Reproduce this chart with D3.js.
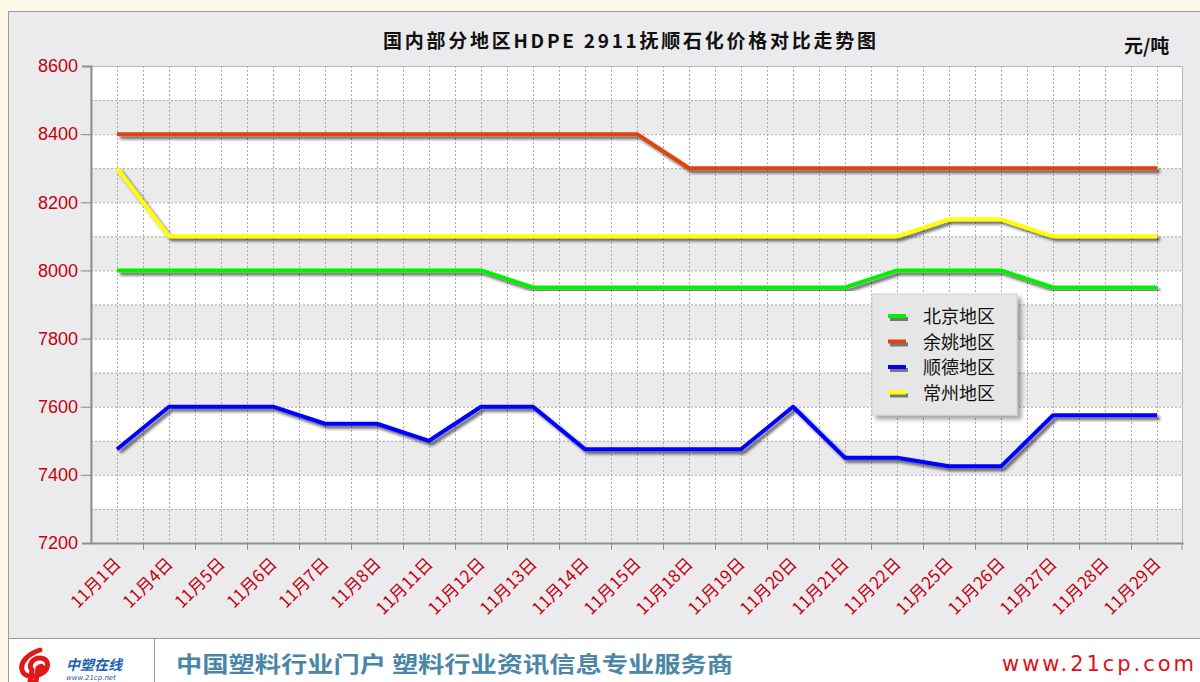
<!DOCTYPE html>
<html>
<head>
<meta charset="utf-8">
<script src="https://cdn.jsdelivr.net/npm/d3@7"></script>
<style>
  html, body { margin: 0; padding: 0; background: #fdf9e8; }
  svg { display: block; }
</style>
</head>
<body>
<div id="chart"></div>
<script>
// data
const dates = ['11月1日', '11月4日', '11月5日', '11月6日', '11月7日', '11月8日', '11月11日',
               '11月12日', '11月13日', '11月14日', '11月15日', '11月18日', '11月19日', '11月20日',
               '11月21日', '11月22日', '11月25日', '11月26日', '11月27日', '11月28日', '11月29日'];
const beijing = [8000, 8000, 8000, 8000, 8000, 8000, 8000, 8000, 7950, 7950, 7950,
                 7950, 7950, 7950, 7950, 8000, 8000, 8000, 7950, 7950, 7950];
const yuyao = [8400, 8400, 8400, 8400, 8400, 8400, 8400, 8400, 8400, 8400, 8400,
               8300, 8300, 8300, 8300, 8300, 8300, 8300, 8300, 8300, 8300];
const shunde = [7475, 7600, 7600, 7600, 7550, 7550, 7500, 7600, 7600, 7475, 7475,
                7475, 7475, 7600, 7450, 7450, 7425, 7425, 7575, 7575, 7575];
const changzhou = [8300, 8100, 8100, 8100, 8100, 8100, 8100, 8100, 8100, 8100, 8100,
                   8100, 8100, 8100, 8100, 8100, 8150, 8150, 8100, 8100, 8100];
const seriesNames = ['北京地区', '余姚地区', '顺德地区', '常州地区'];
const yTicks = [7200, 7400, 7600, 7800, 8000, 8200, 8400, 8600];
const title = '国内部分地区HDPE 2911抚顺石化价格对比走势图';

const W = 1200, H = 682;
const plot = {left: 91, right: 1183, top: 66, bottom: 543};
const colors = ['#00f000', '#dd4410', '#0000ff', '#ffff00'];
const series = [beijing, yuyao, shunde, changzhou].map((v, i) => ({name: seriesNames[i], values: v, color: colors[i]}));

const svg = d3.select('#chart').append('svg').attr('width', W).attr('height', H);

const defs = svg.append('defs');
const f = defs.append('filter').attr('id', 'shadow').attr('x', '-5%').attr('y', '-20%')
    .attr('width', '110%').attr('height', '140%');
f.append('feDropShadow').attr('dx', 3).attr('dy', 3).attr('stdDeviation', 1.4)
    .attr('flood-color', '#000').attr('flood-opacity', 0.6);
const f2 = defs.append('filter').attr('id', 'boxshadow').attr('x', '-10%').attr('y', '-10%')
    .attr('width', '130%').attr('height', '130%');
f2.append('feDropShadow').attr('dx', 4).attr('dy', 4).attr('stdDeviation', 2)
    .attr('flood-color', '#000').attr('flood-opacity', 0.35);

// panel
svg.append('rect').attr('x', 8.5).attr('y', 11.5).attr('width', W).attr('height', 627)
    .attr('fill', '#ebebee').attr('stroke', '#9a9a9a');
// footer
svg.append('rect').attr('x', 8.5).attr('y', 638.5).attr('width', W).attr('height', 50)
    .attr('fill', '#fff').attr('stroke', '#9a9a9a');
svg.append('line').attr('x1', 154.5).attr('x2', 154.5).attr('y1', 638).attr('y2', H)
    .attr('stroke', '#9a9a9a');

const x = d3.scaleBand().domain(dates).range([plot.left, plot.right]);
const y = d3.scaleLinear().domain([7200, 8600]).range([plot.bottom, plot.top]);
const cx = d => x(d) + x.bandwidth() / 2;

// alternating bands
const bands = d3.range(7200, 8600, 100);
svg.append('g').selectAll('rect').data(bands).join('rect')
    .attr('x', plot.left).attr('width', plot.right - plot.left)
    .attr('y', d => y(d + 100)).attr('height', d => y(d) - y(d + 100))
    .attr('fill', (d, i) => i % 2 === 0 ? '#ebebeb' : '#ffffff');

// grid
const grid = svg.append('g').attr('stroke', '#a8a8a8').attr('stroke-dasharray', '2,2');
grid.selectAll('.hg').data(bands.slice(1)).join('line')
    .attr('x1', plot.left).attr('x2', plot.right)
    .attr('y1', d => y(d) + 0.5).attr('y2', d => y(d) + 0.5);
const vlines = [];
dates.forEach((d, i) => { vlines.push(cx(d)); if (i > 0) vlines.push(x(d)); });
grid.selectAll('.vg').data(vlines).join('line')
    .attr('x1', d => Math.round(d) + 0.5).attr('x2', d => Math.round(d) + 0.5)
    .attr('y1', plot.top).attr('y2', plot.bottom);
// dotted lead-ins on left of axis
svg.append('g').attr('stroke', '#b0b0b0').attr('stroke-dasharray', '2,2')
    .selectAll('line').data(yTicks.slice(1, -1)).join('line')
    .attr('x1', 80).attr('x2', plot.left).attr('y1', d => y(d) + 0.5).attr('y2', d => y(d) + 0.5);

// frame
svg.append('rect').attr('x', plot.left).attr('y', plot.top + 0.5)
    .attr('width', plot.right - plot.left - 0.5).attr('height', plot.bottom - plot.top)
    .attr('fill', 'none').attr('stroke', '#b8b8b8');

// axes
const yAxis = svg.append('g').attr('transform', `translate(${plot.left},0)`)
    .call(d3.axisLeft(y).tickValues(yTicks).tickSize(9).tickPadding(4).tickFormat(d3.format('d')));
yAxis.select('.domain').attr('stroke', '#8f8f8f').attr('stroke-width', 2);
yAxis.selectAll('.tick line').attr('stroke', '#8f8f8f');
yAxis.selectAll('text').attr('fill', '#c4000c')
    .style('font-family', '"Liberation Sans", Arial, sans-serif').style('font-size', '18px');

const xAxis = svg.append('g').attr('transform', `translate(0,${plot.bottom})`)
    .call(d3.axisBottom(x).tickSize(0).tickPadding(0));
xAxis.select('.domain').attr('stroke', '#8f8f8f').attr('stroke-width', 2);
xAxis.selectAll('text')
    .attr('fill', '#c4000c')
    .style('font-family', '"Noto Sans CJK SC", sans-serif').style('font-size', '17px')
    .attr('text-anchor', 'end')
    .attr('dy', 0)
    .attr('transform', 'translate(5,22) rotate(-45)');
svg.append('g').attr('stroke', '#8f8f8f').selectAll('line').data(dates.slice(1).concat(['end']))
    .join('line')
    .attr('x1', d => d === 'end' ? plot.right - 1 : Math.round(x(d)) + 0.5)
    .attr('x2', d => d === 'end' ? plot.right - 1 : Math.round(x(d)) + 0.5)
    .attr('y1', plot.bottom).attr('y2', plot.bottom + 7);

// lines
const line = d3.line().x((d, i) => cx(dates[i])).y(d => y(d));
svg.append('g').selectAll('path').data(series).join('path')
    .attr('d', d => line(d.values))
    .attr('fill', 'none').attr('stroke', d => d.color).attr('stroke-width', 4)
    .attr('stroke-linejoin', 'round').attr('filter', 'url(#shadow)');

// title
svg.append('text').attr('x', 383).attr('y', 48).attr('textLength', 493)
    .attr('lengthAdjust', 'spacing')
    .style('font-family', '"Noto Sans CJK SC", sans-serif').style('font-size', '19px')
    .style('font-weight', 'bold').attr('fill', '#111').text(title);
svg.append('text').attr('x', 1124).attr('y', 53)
    .style('font-family', '"Noto Sans CJK SC", sans-serif').style('font-size', '19px')
    .style('font-weight', 'bold').attr('fill', '#111').text('元/吨');

// legend
const lg = svg.append('g').attr('transform', 'translate(872,294)');
lg.append('rect').attr('width', 145).attr('height', 121).attr('fill', '#e6e6e6')
    .attr('stroke', '#d0d0d0').attr('filter', 'url(#boxshadow)');
const item = lg.selectAll('g').data(series).join('g')
    .attr('transform', (d, i) => `translate(0,${22 + i * 25.5})`);
item.append('line').attr('x1', 18).attr('x2', 36).attr('y1', 3).attr('y2', 3)
    .attr('stroke', '#777').attr('stroke-width', 4);
item.append('line').attr('x1', 16).attr('x2', 34).attr('y1', 0).attr('y2', 0)
    .attr('stroke', d => d.color).attr('stroke-width', 4);
item.append('text').attr('x', 51).attr('y', 7)
    .style('font-family', '"Noto Sans CJK SC", sans-serif').style('font-size', '18px')
    .attr('fill', '#111').text(d => d.name);

// footer texts
svg.append('text').attr('x', 176).attr('y', 672).attr('textLength', 557)
    .attr('lengthAdjust', 'spacingAndGlyphs')
    .style('font-family', '"Noto Sans CJK SC", sans-serif').style('font-size', '22px')
    .style('font-weight', 'bold').attr('fill', '#4a86a8').text('中国塑料行业门户 塑料行业资讯信息专业服务商');
svg.append('text').attr('x', 1002).attr('y', 671).attr('textLength', 192)
    .style('font-family', '"DejaVu Sans", sans-serif').style('font-size', '21px')
    .attr('fill', '#e0101a').text('www.21cp.com');

// logo
const logo = svg.append('g').attr('transform', 'translate(18,648)');
logo.append('path').attr('d', 'M22,2 C10,6 2,14 4,22 C6,30 18,30 26,24 C32,18 30,10 22,10 C14,10 10,18 14,22 L12,34 L18,34 L20,20 C24,16 26,20 22,22')
    .attr('fill', 'none').attr('stroke', '#e01818').attr('stroke-width', 5).attr('stroke-linecap', 'round');
logo.append('text').attr('x', 48).attr('y', 22)
    .style('font-family', '"Noto Sans CJK SC", sans-serif').style('font-size', '14px')
    .style('font-weight', 'bold').style('font-style', 'italic').attr('fill', '#2060b0').text('中塑在线');
logo.append('text').attr('x', 48).attr('y', 32)
    .style('font-family', '"DejaVu Sans", sans-serif').style('font-size', '7px')
    .style('font-style', 'italic').attr('fill', '#2060b0').text('www.21cp.net');
</script>
</body>
</html>
